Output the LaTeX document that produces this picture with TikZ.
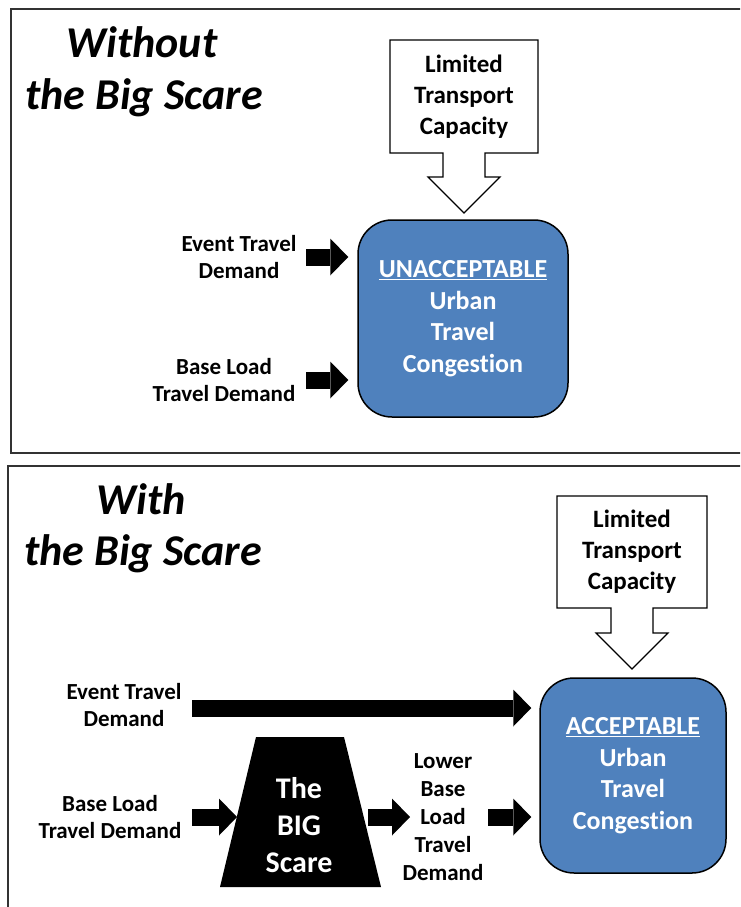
\documentclass[tikz,border=0pt]{standalone}
\usepackage{fontspec}
\setmainfont{Carlito}[Ligatures=NoCommon]
\usetikzlibrary{arrows.meta}
\definecolor{boxblue}{HTML}{4F81BD}
\definecolor{panelgray}{HTML}{333333}
\begin{document}
\begin{tikzpicture}[x=1pt,y=-1pt,
  panel/.style={draw=panelgray,line width=1.8pt},
  titletext/.style={font=\fontsize{44}{46}\selectfont\bfseries\itshape, anchor=base, inner sep=0pt},
  lbl/.style={font=\fontsize{23}{27}\selectfont\bfseries, align=center, inner sep=0pt},
  cotext/.style={font=\fontsize{25}{31}\selectfont\bfseries, align=center, inner sep=0pt},
  bluebox/.style={draw=black, line width=1.5pt, fill=boxblue, rounded corners=34pt, text=white,
     font=\fontsize{26}{31.5}\selectfont\bfseries, align=center, inner sep=0pt},
  callout/.style={draw=black, line width=1.2pt, fill=white, line join=miter},
  barrow/.style={line width=17pt, draw=black, -{Triangle[length=18pt,width=37pt,line width=0pt]}},
]
\useasboundingbox (0,0) rectangle (740,907);
\clip (0,0) rectangle (740,907);

% ---------- top panel ----------
\draw[panel] (760,9) -- (11,9) -- (11,453) -- (760,453);
\node[titletext] (t1a) at (142,58) {Without};
\node[titletext] (t1b) at (144,109) {the Big Scare};

\draw[callout] (390,40) -- (538,40) -- (538,153) -- (485,153) -- (485,177) -- (500,177)
  -- (464,213) -- (428,177) -- (443,177) -- (443,153) -- (390,153) -- cycle;
\node[cotext] (cap1) at (464,96.5) {Limited\\Transport\\Capacity};

\node[bluebox, minimum width=210pt, minimum height=197pt] (cong1) at (463,318.5)
  {\underline{UNACCEPTABLE}\\Urban\\Travel\\Congestion};

\node[lbl] (ev1) at (239,257) {Event Travel\\Demand};
\node[lbl] (bl1) at (224,380) {Base Load\\Travel Demand};
\coordinate (e1) at (306,257);
\coordinate (b1) at (306,380);
\draw[barrow, shorten >=9pt] (e1) -- (e1 -| cong1.west);
\draw[barrow, shorten >=9pt] (b1) -- (b1 -| cong1.west);

% ---------- bottom panel ----------
\draw[panel] (760,466) -- (8,466) -- (8,920);
\node[titletext] (t2a) at (141,514) {With};
\node[titletext] (t2b) at (143,565) {the Big Scare};

\draw[callout] (557,496) -- (707,496) -- (707,608) -- (653,608) -- (653,633) -- (668,633)
  -- (632,669) -- (596,633) -- (611,633) -- (611,608) -- (557,608) -- cycle;
\node[cotext] (cap2) at (632,552) {Limited\\Transport\\Capacity};

\node[bluebox, minimum width=186pt, minimum height=195pt] (cong2) at (633,775.5)
  {\underline{ACCEPTABLE}\\Urban\\Travel\\Congestion};

\node[lbl] (ev2) at (124,705) {Event Travel\\Demand};
\node[lbl] (bl2) at (110,817) {Base Load\\Travel Demand};

\fill[black] (256,737) coordinate (trTL) -- (344,737) coordinate (trTR)
  -- (381,887) coordinate (trBR) -- (220,887) coordinate (trBL) -- cycle;
\node[font=\fontsize{30}{37}\selectfont\bfseries, text=white, align=center, inner sep=0pt]
  (scare) at (299,825) {The\\BIG\\Scare};

\node[font=\fontsize{23}{28}\selectfont\bfseries, align=center, inner sep=0pt]
  (lower) at (443,817.5) {Lower\\Base\\Load\\Travel\\Demand};

\coordinate (e2) at (192,708);
\draw[barrow, shorten >=8pt] (e2) -- (e2 -| cong2.west);
\coordinate (b2) at (192,817);
\coordinate (scL) at (237,817);
\draw[barrow] (b2) -- (scL);
\coordinate (scR) at (368,817);
\coordinate (lowL) at (410,817);
\draw[barrow] (scR) -- (lowL);
\coordinate (c2) at (488,817);
\draw[barrow, shorten >=8pt] (c2) -- (c2 -| cong2.west);
\end{tikzpicture}
\end{document}
